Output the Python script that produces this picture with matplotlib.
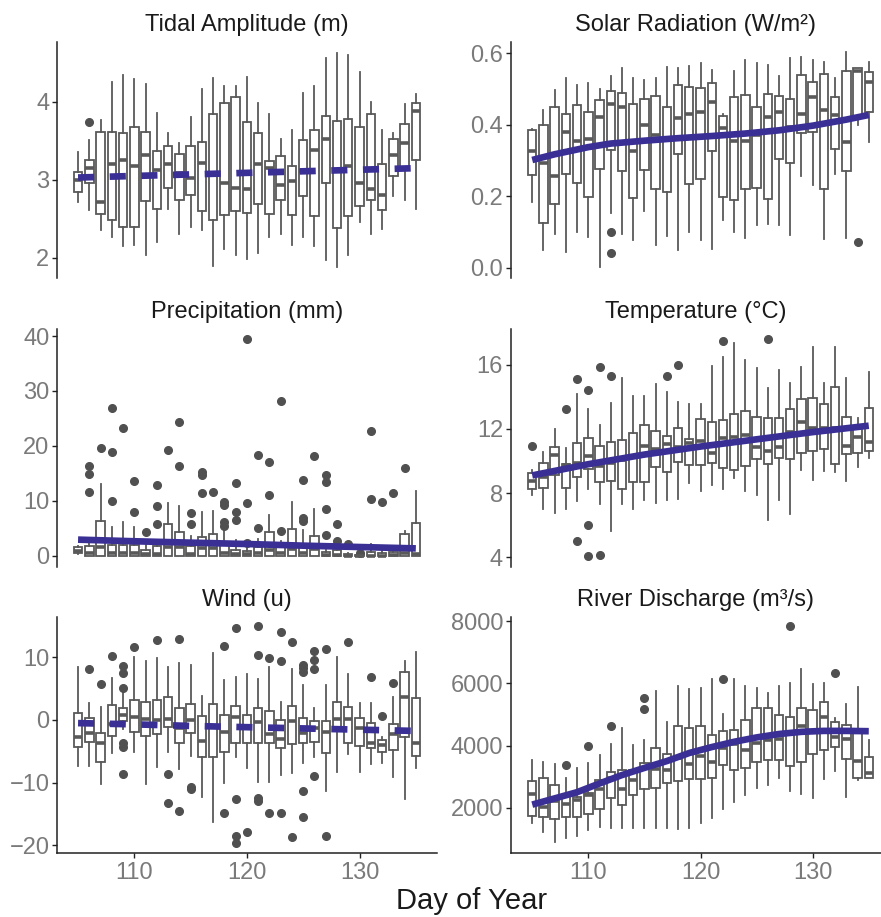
import matplotlib.pyplot as plt
from matplotlib.ticker import FormatStrFormatter

plt.rcParams['font.family'] = ['Liberation Sans', 'DejaVu Sans']
plt.rcParams['lines.scale_dashes'] = False

days = list(range(105, 136))

# ---- Tidal amplitude (m): whisker low, q1, median, q3, whisker high per day
tide_lo = [2.72, 2.61, 2.36, 2.26, 2.15, 2.17, 2.04, 2.20, 2.63, 2.30, 2.40, 2.36, 1.89, 2.11, 2.04, 1.99,
           2.06, 2.26, 2.31, 2.17, 2.26, 2.15, 1.97, 1.88, 2.04, 2.46, 2.31, 2.37, 2.79, 2.74, 2.63]
tide_q1 = [2.85, 2.96, 2.56, 2.48, 2.39, 2.40, 2.73, 2.63, 2.90, 2.74, 2.80, 2.60, 2.49, 2.55, 2.60, 2.57,
           2.69, 2.56, 2.74, 2.55, 2.79, 2.54, 2.96, 2.38, 2.54, 2.66, 2.74, 2.61, 3.05, 3.14, 3.25]
tide_med = [3.00, 3.15, 2.72, 3.20, 3.26, 3.18, 3.32, 3.13, 3.21, 3.09, 3.03, 3.22, 3.07, 2.96, 2.89, 2.88,
            3.20, 3.15, 2.94, 2.98, 3.12, 3.38, 3.52, 3.13, 3.18, 2.96, 2.88, 2.80, 3.32, 3.47, 3.88]
tide_q3 = [3.10, 3.26, 3.62, 3.62, 3.60, 3.68, 3.62, 3.37, 3.44, 3.33, 3.43, 3.48, 3.85, 3.99, 4.06, 3.74,
           3.60, 3.24, 3.31, 3.18, 3.51, 3.64, 3.82, 3.76, 3.78, 3.68, 3.84, 3.20, 3.53, 3.72, 3.99]
tide_hi = [3.36, 3.51, 3.77, 4.26, 4.35, 4.30, 4.23, 3.86, 3.60, 3.47, 3.81, 4.17, 4.31, 4.20, 4.20, 4.32,
           3.99, 3.84, 3.52, 3.64, 4.12, 4.20, 4.57, 4.63, 4.60, 4.39, 4.00, 3.64, 3.60, 3.97, 4.10]
tide_out = {106: [3.74]}
tide_fit_x = [105, 110, 115, 120, 125, 130, 135]
tide_fit_y = [3.03, 3.05, 3.07, 3.09, 3.11, 3.13, 3.15]

# ---- Solar radiation
solar_lo = [0.184, 0.049, 0.095, 0.045, 0.102, 0.088, 0.002, 0.153, 0.095, 0.079, 0.160, 0.065, 0.090, 0.051,
            0.100, 0.079, 0.053, 0.133, 0.102, 0.084, 0.121, 0.124, 0.121, 0.093, 0.256, 0.233, 0.081, 0.262,
            0.084, 0.400, 0.353]
solar_q1 = [0.260, 0.127, 0.180, 0.263, 0.237, 0.198, 0.277, 0.330, 0.270, 0.195, 0.274, 0.221, 0.212, 0.318,
            0.234, 0.248, 0.326, 0.198, 0.191, 0.220, 0.223, 0.193, 0.305, 0.295, 0.377, 0.380, 0.221, 0.333,
            0.270, 0.420, 0.437]
solar_med = [0.327, 0.293, 0.258, 0.380, 0.356, 0.360, 0.423, 0.460, 0.451, 0.327, 0.400, 0.372, 0.363, 0.419,
             0.430, 0.436, 0.465, 0.391, 0.355, 0.355, 0.372, 0.421, 0.437, 0.395, 0.431, 0.479, 0.442, 0.428,
             0.352, 0.552, 0.521]
solar_q3 = [0.386, 0.400, 0.451, 0.431, 0.456, 0.437, 0.470, 0.496, 0.488, 0.460, 0.472, 0.482, 0.451, 0.512,
            0.507, 0.502, 0.516, 0.426, 0.479, 0.484, 0.449, 0.487, 0.482, 0.473, 0.539, 0.521, 0.542, 0.479,
            0.552, 0.558, 0.549]
solar_hi = [0.390, 0.442, 0.498, 0.530, 0.512, 0.518, 0.500, 0.537, 0.558, 0.532, 0.527, 0.530, 0.563, 0.558,
            0.565, 0.572, 0.553, 0.430, 0.552, 0.581, 0.572, 0.569, 0.537, 0.588, 0.591, 0.581, 0.577, 0.532,
            0.603, 0.558, 0.575]
solar_out = {112: [0.102, 0.042], 134: [0.072]}
solar_fit_x = [105, 107, 110, 112, 115, 118, 121, 124, 127, 130, 133, 135]
solar_fit_y = [0.302, 0.318, 0.338, 0.348, 0.356, 0.363, 0.369, 0.376, 0.385, 0.398, 0.415, 0.428]

# ---- Precipitation (mm)
prec_lo = [0.2, 0.0, 0.0, 0.0, 0.0, 0.0, 0.0, 0.0, 0.0, 0.0, 0.0, 0.0, 0.0, 0.0, 0.0, 0.0,
           0.0, 0.0, 0.0, 0.0, 0.0, 0.0, 0.0, 0.0, 0.0, 0.0, 0.0, 0.0, 0.0, 0.0, 0.0]
prec_q1 = [0.4, 0.0, 0.0, 0.0, 0.0, 0.0, 0.0, 0.0, 0.0, 0.0, 0.0, 0.0, 0.0, 0.0, 0.0, 0.0,
           0.0, 0.0, 0.0, 0.0, 0.0, 0.0, 0.0, 0.0, 0.0, 0.0, 0.0, 0.0, 0.0, 0.0, 0.0]
prec_med = [0.9, 0.4, 1.6, 0.4, 0.4, 0.4, 0.3, 0.3, 1.6, 1.5, 0.3, 1.3, 1.3, 0.4, 0.2, 0.3,
            0.4, 1.0, 0.4, 1.2, 0.4, 1.2, 0.1, 0.1, 0.0, 0.0, 0.0, 0.0, 0.1, 0.5, 0.3]
prec_q3 = [1.6, 1.8, 6.3, 1.9, 1.9, 1.9, 1.0, 1.8, 5.7, 4.2, 1.8, 3.3, 4.0, 1.9, 1.0, 0.8,
           1.5, 4.3, 1.6, 4.9, 1.6, 3.5, 0.7, 1.0, 0.3, 0.1, 0.7, 0.4, 0.7, 4.0, 5.9]
prec_hi = [1.8, 2.5, 13.0, 5.2, 6.1, 5.2, 2.9, 2.5, 9.6, 9.1, 3.5, 8.0, 8.2, 4.7, 2.9, 1.8,
           3.0, 7.3, 2.7, 9.7, 4.7, 8.5, 1.0, 1.5, 0.5, 0.2, 2.1, 0.8, 1.2, 4.5, 11.7]
prec_out = {106: [16.4, 14.9, 11.6], 107: [19.6], 108: [26.9, 18.8, 10.0], 109: [23.2],
            110: [13.6, 7.9], 111: [4.3], 112: [12.8, 9.1, 5.7], 113: [19.3], 114: [24.4, 16.4],
            115: [7.7, 5.7], 116: [15.3, 14.6, 11.4], 117: [11.6], 118: [9.7, 9.3, 6.2, 5.3],
            119: [13.2, 8.0, 6.5], 120: [39.5, 9.6, 2.3], 121: [18.4, 5.0], 122: [17.0, 11.0],
            123: [28.1, 4.5], 125: [13.8, 6.9, 6.3], 126: [18.2], 127: [14.6, 13.4, 8.5, 3.8],
            128: [5.8, 2.7], 129: [2.1], 130: [0.4], 131: [22.7, 10.3], 132: [9.7], 133: [11.4],
            134: [16.0]}
prec_fit_x = [105, 110, 115, 120, 125, 130, 135]
prec_fit_y = [2.9, 2.6, 2.35, 2.1, 1.8, 1.55, 1.3]

# ---- Temperature (deg C)
temp_lo = [7.86, 6.98, 6.78, 6.98, 7.51, 8.28, 7.34, 5.63, 7.34, 6.98, 7.55, 7.40, 7.59, 7.65, 8.65, 8.11,
           8.53, 8.24, 8.95, 8.11, 7.90, 6.30, 7.55, 6.71, 9.43, 8.84, 9.38, 9.32, 8.76, 9.64, 10.16]
temp_q1 = [8.24, 8.34, 9.10, 8.34, 8.97, 9.47, 8.70, 8.74, 8.28, 8.70, 8.70, 9.64, 9.32, 9.95, 9.74, 9.74,
           9.89, 9.59, 9.43, 9.68, 10.12, 9.80, 10.20, 10.10, 10.47, 10.64, 10.74, 9.84, 10.43, 10.51, 10.62]
temp_med = [8.74, 9.00, 10.37, 9.74, 9.89, 10.30, 9.70, 9.85, 10.05, 10.26, 10.93, 10.72, 11.03, 10.90, 11.14,
            11.24, 10.47, 11.41, 11.51, 11.62, 10.85, 10.64, 10.89, 11.83, 12.45, 12.03, 12.03, 12.03, 10.95,
            11.51, 11.16]
temp_q3 = [9.22, 9.89, 10.89, 9.80, 11.14, 11.41, 10.93, 11.20, 11.30, 11.72, 12.24, 11.89, 11.56, 12.08, 11.37,
           12.60, 12.45, 12.56, 12.93, 13.14, 12.72, 12.70, 12.70, 13.25, 13.85, 13.91, 13.56, 14.60, 12.77,
           12.20, 13.33]
temp_hi = [9.43, 10.57, 11.97, 10.78, 14.16, 13.25, 12.24, 13.60, 15.17, 14.06, 14.06, 14.81, 14.33, 13.66, 13.54,
           13.54, 15.94, 16.48, 17.36, 16.31, 15.79, 14.58, 15.69, 14.89, 15.85, 17.10, 14.85, 17.10, 15.17,
           12.66, 15.54]
temp_out = {105: [10.93], 108: [13.22], 109: [15.1, 5.0], 110: [14.43, 6.0, 4.06], 111: [15.83, 4.15],
            112: [15.27], 117: [15.33], 118: [16.0], 122: [17.5], 126: [17.6]}
temp_fit_x = [105, 110, 115, 120, 125, 130, 135]
temp_fit_y = [9.1, 9.8, 10.4, 10.9, 11.35, 11.8, 12.2]

# ---- Wind (u)
wind_lo = [-7.31, -7.36, -10.24, -5.33, -1.5, -5.17, -10.24, -7.57, -5.07, -7.84, -5.76, -12.37, -16.27, -10.13,
           -5.87, -7.63, -9.87, -9.87, -8.8, -8.53, -6.83, -5.87, -11.31, -8.37, -5.44, -8.37, -7.09, -6.83,
           -9.07, -12.69, -7.73]
wind_q1 = [-4.27, -3.57, -6.77, -2.51, -0.2, -1.87, -2.56, -2.24, -1.07, -3.63, -2.03, -5.97, -5.87, -5.17,
           -3.63, -3.73, -3.63, -3.63, -4.53, -3.89, -3.73, -3.47, -5.33, -1.6, -3.73, -4.11, -4.53, -5.07,
           -4.8, -2.67, -5.71]
wind_med = [-2.67, -2.13, -3.73, -0.6, 0.8, 0.53, 0.1, 0.0, 0.1, -1.33, 0.0, -3.31, -1.07, -1.87, 0.53, -0.9,
            -0.27, -2.24, -3.09, -0.16, -2.13, -1.33, -1.97, 0.1, 0.1, -1.33, -3.63, -4.0, -2.24, 3.63, -3.73]
wind_q3 = [1.07, 0.27, -2.13, 2.40, 1.9, 3.2, 2.93, 3.2, 3.73, 1.87, 2.56, 0.64, 2.56, 0.8, 2.24, 0.8,
           1.87, 1.44, 0.0, 2.24, 0.27, -0.1, -0.1, 2.83, 2.13, 0.27, -0.43, -3.2, -0.64, 7.73, 3.57]
wind_hi = [8.43, 2.67, 2.03, 6.67, 4.3, 10.13, 9.49, 9.87, 8.43, 9.07, 8.8, 3.89, 10.77, 6.4, 6.93, 7.31,
           6.51, 8.53, 2.93, 8.16, 5.6, 1.97, 5.6, 10.13, 7.31, 2.77, 2.77, -2.67, 3.73, 9.49, 10.93]
wind_out = {106: [8.16], 107: [5.71], 108: [10.24], 109: [8.64, 7.57, 5.17, -3.6, -4.3, -8.64],
            110: [11.73], 112: [12.8], 113: [-8.64, -13.3], 114: [12.9, -14.5], 115: [-10.77, -11.1],
            118: [11.84, -14.83], 119: [14.67, -12.69, -18.56, -19.73], 120: [-17.87],
            121: [15.04, 10.4, -12.53, -12.9], 122: [9.97, -14.93], 123: [14.03, 9.44, -14.93],
            124: [12.43, -18.67], 125: [8.8, 8.27, 7.73, -11.36, -15.57], 126: [11.09, 9.6, 8.11, -8.96],
            127: [11.31, -18.51], 129: [12.53], 131: [6.83], 132: [0.64], 133: [5.87]}
wind_fit_x = [105, 110, 115, 120, 125, 130, 135]
wind_fit_y = [-0.5, -0.7, -0.95, -1.15, -1.35, -1.55, -1.75]

# ---- River discharge (m3/s)
river_lo = [1518, 1218, 897, 1036, 1090, 1283, 1379, 1357, 1357, 1357, 1357, 1357, 1336, 1304, 1357, 1518,
            1679, 1946, 2182, 2396, 2621, 2718, 2942, 2536, 2450, 2321, 2910, 3178, 2353, 2878, 2942]
river_q1 = [1732, 1711, 1647, 1700, 1700, 1807, 1968, 2300, 2075, 2407, 2589, 2621, 2782, 2857, 2932, 2932,
            2942, 3371, 3210, 3264, 3467, 3521, 3521, 3339, 3467, 3714, 3853, 3949, 3553, 2942, 2964]
river_med = [2450, 2021, 2214, 2129, 2236, 2400, 2600, 2942, 2610, 2878, 3285, 3232, 3200, 3600, 3392, 3660,
             3467, 3928, 4035, 3853, 4088, 4163, 4196, 4410, 4624, 4463, 4924, 4271, 4196, 3499, 3103]
river_q3 = [2857, 2942, 2718, 2375, 2350, 2482, 2878, 3146, 3210, 3210, 3424, 3906, 3735, 4624, 4549, 4624,
            4324, 4463, 4495, 4806, 5213, 5192, 4967, 4913, 5213, 5127, 5395, 4752, 4656, 4463, 3628]
river_hi = [3521, 3467, 3392, 2942, 3285, 3446, 3692, 4035, 4570, 4003, 4163, 5749, 4752, 5909, 5824, 5856,
            6145, 4999, 6124, 5909, 5834, 5695, 5909, 6016, 6445, 5984, 6016, 4892, 5320, 5888, 4163]
river_out = {108: [3371], 110: [3981], 112: [4624], 115: [5513, 5181], 122: [6145], 128: [7837], 132: [6338]}
river_fit_x = [105, 107, 109, 111, 113, 115, 117, 119, 121, 123, 125, 127, 129, 131, 133, 135]
river_fit_y = [2100, 2300, 2500, 2780, 3050, 3280, 3500, 3760, 3950, 4120, 4260, 4370, 4440, 4470, 4470, 4460]

GREY = '#595959'
DOT = '#505050'
BLUE = '#3a2f94'
W, H = 881, 917
TICK_FS = 17
TITLE_FS = 17


def box_stats(lo, q1, med, q3, hi, out):
    stats = []
    for i, d in enumerate(days):
        stats.append(dict(whislo=lo[i], q1=q1[i], med=med[i], q3=q3[i], whishi=hi[i],
                          fliers=out.get(d, [])))
    return stats


def panel(px, title, stats, fit_x, fit_y, ylim, yticks, xlim, dashed=False, bottom=False, fmt=None):
    # px = (left, top, right, bottom) in pixels
    ax = fig.add_axes([px[0] / W, 1 - px[3] / H, (px[2] - px[0]) / W, (px[3] - px[1]) / H])
    ax.bxp(stats, positions=days, widths=0.75, showcaps=False, patch_artist=True, manage_ticks=False,
           boxprops=dict(facecolor='white', edgecolor=GREY, linewidth=1.3),
           medianprops=dict(color=GREY, linewidth=2.6, solid_capstyle='butt'),
           whiskerprops=dict(color=GREY, linewidth=1.3),
           flierprops=dict(marker='o', markerfacecolor=DOT, markeredgecolor=DOT, markersize=5.5))
    ln, = ax.plot(fit_x, fit_y, color=BLUE, lw=4.8, solid_capstyle='butt', zorder=5)
    if dashed:
        ln.set_dashes((11.6, 11.2))
        ln.set_dash_capstyle('butt')
    ax.set_xlim(xlim)
    ax.set_ylim(ylim)
    ax.set_yticks(yticks)
    if fmt:
        ax.yaxis.set_major_formatter(FormatStrFormatter(fmt))
    ax.set_title(title, fontsize=TITLE_FS, color='#1a1a1a', pad=8)
    for s in ['top', 'right']:
        ax.spines[s].set_visible(False)
    ax.spines['left'].set_linewidth(1.1)
    ax.spines['left'].set_color('#222222')
    if bottom:
        ax.spines['bottom'].set_linewidth(1.1)
        ax.spines['bottom'].set_color('#222222')
        ax.set_xticks([110, 120, 130])
        ax.tick_params(axis='x', length=3.5, width=1.0, color='#222222', labelsize=TICK_FS,
                       labelcolor='#7a7a7a', pad=2.5)
    else:
        ax.spines['bottom'].set_visible(False)
        ax.set_xticks([])
    ax.tick_params(axis='y', length=3.5, width=1.0, color='#222222', labelsize=TICK_FS,
                   labelcolor='#7a7a7a', pad=2)
    return ax


fig = plt.figure(figsize=(W / 100, H / 100), dpi=100)

xl_left = (103.13, 136.88)
xl_right = (103.08, 136.09)

panel((57, 42, 437, 278), 'Tidal Amplitude (m)',
      box_stats(tide_lo, tide_q1, tide_med, tide_q3, tide_hi, tide_out),
      tide_fit_x, tide_fit_y, (1.74, 4.77), [2, 3, 4], xl_left, dashed=True)
panel((510.7, 42, 881, 278), 'Solar Radiation (W/m²)',
      box_stats(solar_lo, solar_q1, solar_med, solar_q3, solar_hi, solar_out),
      solar_fit_x, solar_fit_y, (-0.028, 0.632), [0.0, 0.2, 0.4, 0.6], xl_right, fmt='%.1f')
panel((57, 329, 437, 566.5), 'Precipitation (mm)',
      box_stats(prec_lo, prec_q1, prec_med, prec_q3, prec_hi, prec_out),
      prec_fit_x, prec_fit_y, (-2.0, 41.3), [0, 10, 20, 30, 40], xl_left)
panel((510.7, 329, 881, 566.5), 'Temperature (°C)',
      box_stats(temp_lo, temp_q1, temp_med, temp_q3, temp_hi, temp_out),
      temp_fit_x, temp_fit_y, (3.42, 18.23), [4, 8, 12, 16], xl_right)
panel((57, 616.7, 437, 853.3), 'Wind (u)',
      box_stats(wind_lo, wind_q1, wind_med, wind_q3, wind_hi, wind_out),
      wind_fit_x, wind_fit_y, (-21.3, 16.5), [-20, -10, 0, 10], xl_left, dashed=True, bottom=True)
panel((510.7, 616.7, 881, 853.3), 'River Discharge (m³/s)',
      box_stats(river_lo, river_q1, river_med, river_q3, river_hi, river_out),
      river_fit_x, river_fit_y, (535, 8141), [2000, 4000, 6000, 8000], xl_right, bottom=True)

fig.text(472 / W, 1 - 901 / H, 'Day of Year', fontsize=21, color='#1a1a1a', ha='center', va='center')

fig.savefig('out.png', dpi=100)
